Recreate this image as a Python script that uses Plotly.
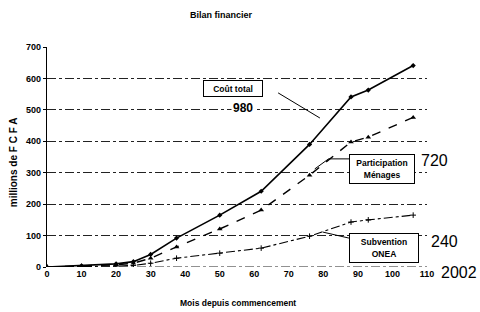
import plotly.graph_objects as go

# Data
months = [0, 10, 20, 25, 30, 37.5, 50, 62, 76, 88, 93, 106]
participation = [0, 3, 7, 12, 28, 64, 121, 181, 292, 398, 413, 476]
subvention = [0, 1, 3, 5, 12, 28, 44, 60, 98, 143, 150, 165]
cout_total = [p + s for p, s in zip(participation, subvention)]

x_ticks = [0, 10, 20, 30, 40, 50, 60, 70, 80, 90, 100, 110]
y_ticks = [0, 100, 200, 300, 400, 500, 600, 700]

FONT = "Liberation Sans Narrow, Arial Narrow, Liberation Sans, Arial"
BFONT = dict(family=FONT, size=9, color="black")

fig = go.Figure()
fig.add_trace(go.Scatter(x=months, y=cout_total, mode="lines+markers",
                         line=dict(color="black", width=1.6),
                         marker=dict(symbol="diamond", size=4, color="black"),
                         name="Coût total"))
fig.add_trace(go.Scatter(x=months, y=participation, mode="lines+markers",
                         line=dict(color="black", width=1.4, dash="dash"),
                         marker=dict(symbol="triangle-up", size=5, color="black"),
                         name="Participation Ménages"))
fig.add_trace(go.Scatter(x=months, y=subvention, mode="lines+markers",
                         line=dict(color="black", width=1.1, dash="dashdot"),
                         marker=dict(symbol="cross-thin", size=4,
                                     line=dict(color="black", width=1)),
                         name="Subvention ONEA"))

# zero line dashed
fig.add_shape(type="line", xref="x", yref="y", x0=0, x1=110, y0=0, y1=0,
              line=dict(color="#222", width=1, dash="dashdot"), layer="below")

# connectors
fig.add_shape(type="line", x0=66.9, y0=554, x1=79.0, y1=474,
              line=dict(color="black", width=1))
fig.add_shape(type="line", x0=77.5, y0=312, x1=81.5, y1=344,
              line=dict(color="black", width=1))
fig.add_shape(type="line", x0=81.5, y0=344, x1=88, y1=344,
              line=dict(color="black", width=1))
fig.add_shape(type="line", x0=87.4, y0=92, x1=79.9, y1=111,
              line=dict(color="black", width=1))

box_font = dict(family=FONT, size=8.5, color="black")
fig.add_annotation(x=53.8, y=568, text="<b>Coût total</b>", showarrow=False,
                   font=box_font, bordercolor="black", borderwidth=1,
                   bgcolor="white", width=56, height=13)
fig.add_annotation(x=97.1, y=312, text="<b>Participation<br>Ménages</b>",
                   showarrow=False, font=box_font, bordercolor="black",
                   borderwidth=1, bgcolor="white", width=62, height=26)
fig.add_annotation(x=97.6, y=60, text="<b>Subvention<br>ONEA</b>",
                   showarrow=False, font=box_font, bordercolor="black",
                   borderwidth=1, bgcolor="white", width=66, height=26)

fig.add_annotation(x=56.7, y=506, text="<b>980</b>", showarrow=False,
                   font=dict(family=FONT, size=12, color="black"),
                   bgcolor="white")
big = dict(family=FONT, size=16, color="black")
for xp, yp, txt in [(1.021, 0.482, "720"), (1.047, 0.118, "240"),
                    (1.084, -0.027, "2002")]:
    fig.add_annotation(xref="paper", yref="paper", x=xp, y=yp, text=txt,
                       showarrow=False, font=big,
                       xanchor="center", yanchor="middle")

fig.add_annotation(xref="paper", yref="paper", x=0.458, y=1.145,
                   text="<b>Bilan financier</b>", showarrow=False,
                   font=dict(family=FONT, size=9, color="black"),
                   xanchor="center", yanchor="middle")
fig.add_annotation(xref="paper", yref="paper", x=0.503, y=-0.164,
                   text="<b>Mois depuis commencement</b>", showarrow=False,
                   font=dict(family=FONT, size=8.5, color="black"),
                   xanchor="center", yanchor="middle")
fig.add_annotation(xref="paper", yref="paper", x=-0.089, y=0.477,
                   text="<b>millions de F C F A</b>", showarrow=False,
                   textangle=-90,
                   font=dict(family=FONT, size=10, color="black"),
                   xanchor="center", yanchor="middle")

fig.update_xaxes(range=[0, 110], tickvals=x_ticks,
                 ticktext=[f"<b>{v}</b>" for v in x_ticks],
                 showgrid=False, zeroline=False, showline=False,
                 tickfont=BFONT, ticks="")
fig.update_yaxes(range=[0, 700], tickvals=y_ticks,
                 ticktext=[f"<b>{v}</b>" for v in y_ticks],
                 showgrid=True, gridcolor="#222", gridwidth=0.8,
                 griddash="dashdot", zeroline=False, showline=True,
                 linecolor="black", linewidth=1.2, ticks="outside",
                 ticklen=3, tickcolor="black", tickfont=BFONT)

fig.update_layout(width=480, height=312, showlegend=False,
                  plot_bgcolor="white", paper_bgcolor="white",
                  margin=dict(l=47, r=53, t=47, b=45))

# remove the default page margin so the figure fills the window exactly
fig.write_html("out.html", config={"displayModeBar": False},
               post_script="document.body.style.margin='0';"
                           "document.body.style.overflow='hidden';")
